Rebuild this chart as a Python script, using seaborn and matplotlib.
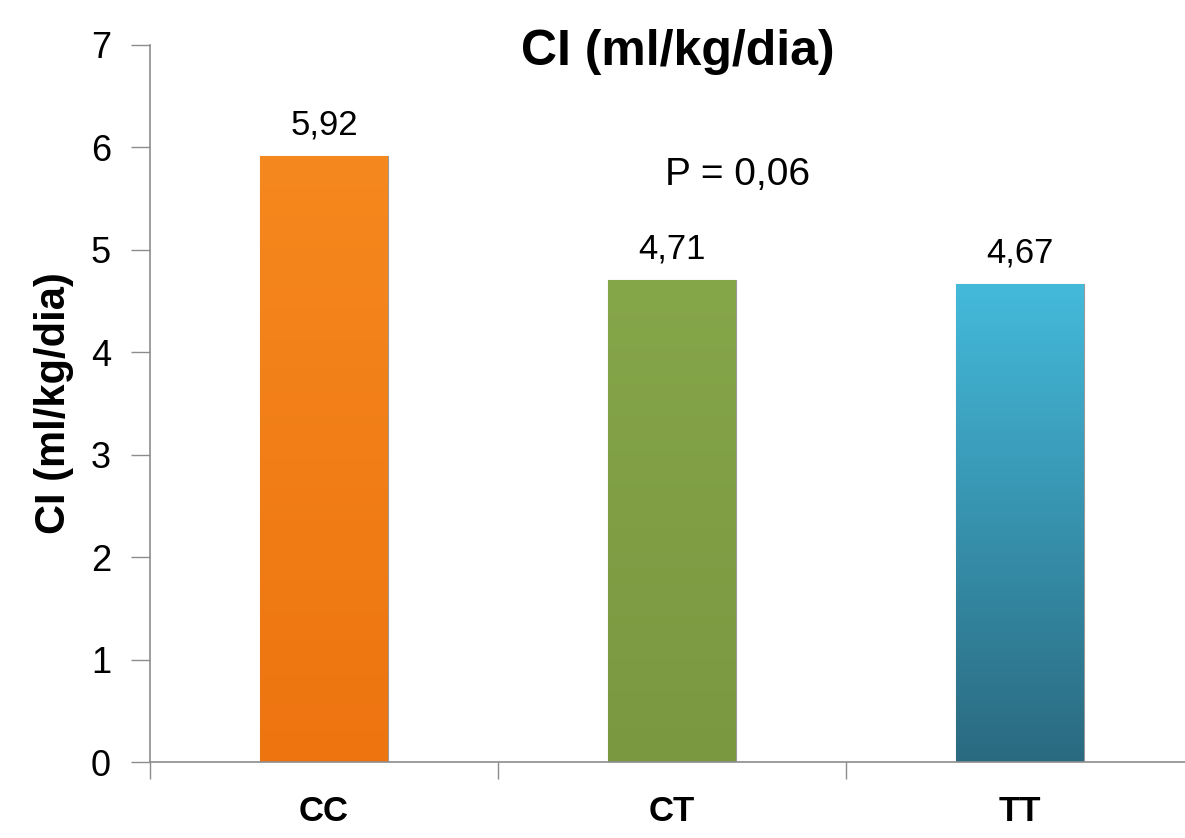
import matplotlib
matplotlib.use("Agg")
import matplotlib.pyplot as plt
import seaborn as sns
import pandas as pd
import numpy as np

categories = ["CC", "CT", "TT"]
values = [5.92, 4.71, 4.67]
value_labels = ["5,92", "4,71", "4,67"]
title = "CI (ml/kg/dia)"
ylabel = "CI (ml/kg/dia)"
p_text = "P = 0,06"

sns.set_theme(style="white")
plt.rcParams["font.family"] = ["Liberation Sans", "DejaVu Sans"]
plt.rcParams["text.color"] = "black"
plt.rcParams["axes.labelcolor"] = "black"
plt.rcParams["xtick.labelcolor"] = "black"
plt.rcParams["ytick.labelcolor"] = "black"

df = pd.DataFrame({"g": categories, "v": values})
fig = plt.figure(figsize=(11.85, 8.38), dpi=100)
ax = fig.add_axes([150/1185, 1-762/838, 1044/1185, (762-45)/838])

colors = ["#F07A12", "#809E44", "#3EA9C9"]
sns.barplot(data=df, x="g", y="v", hue="g", palette=colors, legend=False,
            width=0.365, ax=ax, saturation=1, edgecolor="#9a9a9a", linewidth=0.8)

grads = [("#F5881E", "#EE7410"), ("#86A64A", "#7A9840"), ("#44BADB", "#2A6A80")]
for patch, (top, bot) in zip(ax.patches, grads):
    x0, y0 = patch.get_x(), patch.get_y()
    w, h = patch.get_width(), patch.get_height()
    cmap = matplotlib.colors.LinearSegmentedColormap.from_list("g", [bot, top])
    grad = np.linspace(0, 1, 256).reshape(-1, 1)
    im = ax.imshow(grad, extent=[x0, x0 + w, y0, y0 + h], origin="lower",
                   aspect="auto", cmap=cmap, zorder=patch.get_zorder())
    im.set_clip_path(patch)

ax.set_xlim(-0.5, 2.5)
ax.set_ylim(0, 7)
ax.set_yticks(range(0, 8))
ax.set_xticks([-0.5, 0.5, 1.5, 2.5], minor=False)
ax.set_xticklabels([])
ax.set_xticks([0, 1, 2], minor=True)
ax.set_xticklabels(categories, minor=True, fontsize=25, fontweight="bold")
ax.tick_params(axis="x", which="minor", length=0, pad=24)
ax.tick_params(axis="x", which="major", length=12, width=1, color="#8c8c8c", direction="out")
ax.tick_params(axis="y", length=14, width=1, color="#8c8c8c", direction="out", labelsize=26, pad=14)
ax.yaxis.set_tick_params(which="both", left=True)
ax.xaxis.set_tick_params(which="major", bottom=True)

for s in ["top", "right"]:
    ax.spines[s].set_visible(False)
for s in ["left", "bottom"]:
    ax.spines[s].set_color("#8c8c8c")
    ax.spines[s].set_linewidth(1.2)

ax.set_xlabel("")
ax.set_ylabel(ylabel, fontsize=30, fontweight="bold", labelpad=12)
ax.set_title(title, fontsize=36, fontweight="bold", x=0.506, y=0.96)

for i, (v, lab) in enumerate(zip(values, value_labels)):
    ax.annotate(lab, (i, v), xytext=(0, 10), textcoords="offset points",
                ha="center", va="bottom", fontsize=25)

ax.text(0.98, 5.73, p_text, ha="left", va="center", fontsize=28)

fig.savefig("out.png", dpi=100)
